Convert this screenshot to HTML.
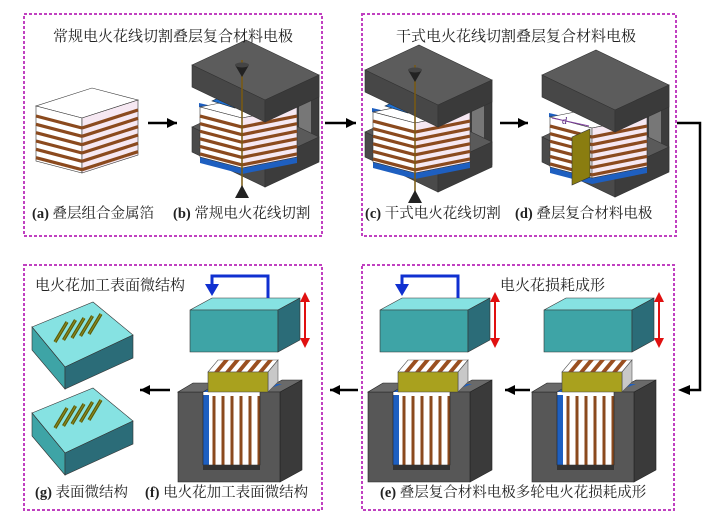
<!DOCTYPE html>
<html><head><meta charset="utf-8"><style>
html,body{margin:0;padding:0;background:#fff;width:724px;height:520px;overflow:hidden}
svg{display:block}
.t{font-family:"Liberation Serif","Noto Serif CJK SC",serif;font-size:15px;fill:#222}
.c{font-family:"Liberation Serif","Noto Serif CJK SC",serif;font-size:14.5px;fill:#222}
.b{font-weight:bold}
</style></head><body>
<svg id="s" width="724" height="520" viewBox="0 0 724 520" xmlns="http://www.w3.org/2000/svg">
<g fill="none" stroke="#c040c0" stroke-width="2" stroke-dasharray="3,2">
<rect x="24" y="14" width="298" height="222"/>
<rect x="362" y="14" width="314" height="222"/>
<rect x="24" y="265" width="298" height="245"/>
<rect x="362" y="265" width="312" height="245"/>
</g>
<g id="art"></g>
<text class="t" x="53" y="41">常规电火花线切割叠层复合材料电极</text>
<text class="t" x="396" y="41">干式电火花线切割叠层复合材料电极</text>
<text class="t" x="35" y="290">电火花加工表面微结构</text>
<text class="t" x="500" y="290">电火花损耗成形</text>
<text class="c" x="32" y="218"><tspan class="b">(a)</tspan> 叠层组合金属箔</text>
<text class="c" x="173" y="218"><tspan class="b">(b)</tspan> 常规电火花线切割</text>
<text class="c" x="365" y="218"><tspan class="b">(c)</tspan> 干式电火花线切割</text>
<text class="c" x="515" y="218"><tspan class="b">(d)</tspan> 叠层复合材料电极</text>
<text class="c" x="35" y="497"><tspan class="b">(g)</tspan> 表面微结构</text>
<text class="c" x="145" y="497"><tspan class="b">(f)</tspan> 电火花加工表面微结构</text>
<text class="c" x="380" y="497"><tspan class="b">(e)</tspan> 叠层复合材料电极多轮电火花损耗成形</text>
</svg>
<script>
var A=document.getElementById('art'),NS='http://www.w3.org/2000/svg',G=A;
function el(n,a){var e=document.createElementNS(NS,n);for(var k in a)e.setAttribute(k,a[k]);G.appendChild(e);return e;}
function P(pts,f,s){return el('polygon',{points:pts.map(function(p){return p[0]+','+p[1]}).join(' '),fill:f,stroke:s||'none','stroke-width':0.6});}
function L(x1,y1,x2,y2,c,w){return el('line',{x1:x1,y1:y1,x2:x2,y2:y2,stroke:c,'stroke-width':w});}
function add(a,b){return [a[0]+b[0],a[1]+b[1]];}
function iso(O,u,v,h,ct,cl,cr){var H=[0,h];
 P([O,add(O,u),add(add(O,u),v),add(O,v)],ct,'#333');
 P([O,add(O,u),add(add(O,u),H),add(O,H)],cl,'#333');
 P([O,add(O,v),add(add(O,v),H),add(O,H)],cr,'#333');}
function stack(O,u,v,h,n){iso(O,u,v,h,'#fff','#fff','#f6e8f2');
 for(var i=0;i<n;i++){var t=h*(i+1.2)/(n+0.6);
  L(O[0],O[1]+t,O[0]+u[0],O[1]+u[1]+t,'#8b4a1e',3.2);
  L(O[0],O[1]+t,O[0]+v[0],O[1]+v[1]+t,'#8b4a1e',3.2);}}
function arrow(x1,y,x2){L(x1,y,x2,y,'#000',2.5);var d=x2>x1?1:-1;P([[x2,y],[x2-d*10,y-5],[x2-d*10,y+5]],'#000');}
// (a)
stack([82,118],[-46,-12],[56,-18],55,6);
// c-frame template
function cframe(dx,dy,wire,olive){
 G=el('g',{transform:'translate('+dx+','+dy+')'});
 var O=[438,105],u=[-73,-35],v=[54,-25];
 P([O,add(O,v),[492,165],[438,192]],'#3c3c3c','#222');
 P([[472,105],[484,99],[484,152],[472,158]],'#777');
 iso([438,167],u,v,25,'#5a5a5a','#4a4a4a','#3c3c3c');
 P([[372,108],[420,119],[470,108],[470,112],[420,123],[372,112]],'#1e5fc0');
 P([[373,162],[415,173],[470,162],[470,168],[415,179],[373,168]],'#1e5fc0');
 stack([415,123],[-42,-11],[55,-11],50,6);
 if(wire){P([[385,106],[402,98],[425,104],[408,113]],'#1e6fd0','#123');}
 iso(O,u,v,22,'#5c5c5c','#474747','#3a3a3a');
 if(wire){L(415,65,415,200,'#7a5a10',1.5);P([[408,70],[422,70],[415,82]],'#222');P([[408,203],[422,203],[415,190]],'#222');el('ellipse',{cx:415,cy:70,rx:7,ry:2.5,fill:'#444'});}
 if(olive){P([[395,132],[413,124],[413,172],[395,180]],'#8a7d10','#333');
  L(375,113,412,121,'#8040a0',1);el('text',{x:385,y:119,'font-size':'10','font-style':'italic',fill:'#5a2a80','font-family':'Liberation Serif'}).textContent='d';}
 G=A;}
cframe(-173,-5,true,false);
cframe(0,0,true,false);
cframe(177,5,false,true);
// bottom units
function unit(dx,blue){
 G=el('g',{transform:'translate('+dx+',0)'});
 iso([278,310],[-88,0],[22,-12],42,'#86e2e2','#3ea4a6','#2b6c78');
 L(305,298,305,342,'#e01010',2);P([[305,292],[300,302],[310,302]],'#e01010');P([[305,348],[300,338],[310,338]],'#e01010');
 if(blue){el('polyline',{points:'268,298 268,276 212,276 212,288',fill:'none',stroke:'#1030d0','stroke-width':3});P([[205,284],[219,284],[212,296]],'#1030d0');}
 P([[280,392],[302,380],[302,470],[280,482]],'#3a3a3a','#222');
 P([[260,392],[280,392],[302,380],[282,380]],'#6a6a6a','#222');
 P([[203,392],[218,384],[282,384],[260,392]],'#1e5fc0');
 P([[203,395],[260,395],[260,465],[203,465]],'#fff');
 P([[203,395],[209,395],[209,465],[203,465]],'#1e5fc0');
 for(var i=0;i<6;i++){var x=214+i*9;L(x,396,x,465,'#8b4a1e',3);}
 P([[178,392],[203,392],[203,465],[260,465],[260,392],[280,392],[280,482],[178,482]],'#575757','#222');
 P([[178,392],[203,392],[218,383],[193,383]],'#6a6a6a','#222');
 P([[203,465],[260,465],[260,470],[203,470]],'#333');
 P([[208,372],[218,360],[278,360],[268,372]],'#fff','#555');
 for(var j=0;j<5;j++){var x0=214+j*11;P([[x0,372],[x0+10,360],[x0+15,360],[x0+5,372]],'#9a4f20');}
 P([[268,372],[278,360],[278,382],[268,392]],'#c8c8c8','#555');
 P([[208,372],[268,372],[268,392],[208,392]],'#a9a11e','#444');
 G=A;}
unit(0,true);unit(190,true);unit(354,false);
// (g) tiles
function tile(dy){G=el('g',{transform:'translate(0,'+dy+')'});
 P([[32,327],[93,302],[133,335],[65,367]],'#86e2e2','#333');
 P([[32,327],[65,367],[65,389],[32,350]],'#3ea4a6','#333');
 P([[65,367],[133,335],[133,358],[65,389]],'#2b6c78','#333');
 for(var k=0;k<5;k++){var x=55+k*8.5,y=342-k*2;L(x,y,x+12,y-20,'#5a5a08',3.4);L(x,y,x+12,y-20,'#8a8a20',1.2);}
 G=A;}
tile(0);tile(86);
arrow(148,123,177);arrow(325,123,356);arrow(500,123,528);
arrow(530,390,505);arrow(358,390,330);arrow(170,390,140);
el('polyline',{points:'677,123 700,123 700,390 688,390',fill:'none',stroke:'#000','stroke-width':2.5});
P([[678,390],[690,385],[690,395]],'#000');
</script>
</body></html>
